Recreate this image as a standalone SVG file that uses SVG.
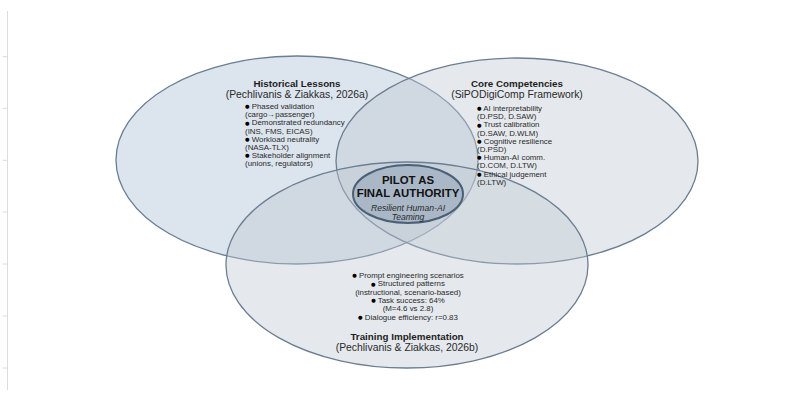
<svg xmlns="http://www.w3.org/2000/svg" width="797" height="393" viewBox="0 0 797 393">
  <style>
    .set { stroke: #6c7e92; stroke-width: 1.3; fill-opacity: 0.4; }
    .title { font-family: "Liberation Sans", Arial, sans-serif; font-size: 9.8px; font-weight: bold; fill: #1e1e1e; text-anchor: middle; }
    .sub { font-family: "Liberation Sans", Arial, sans-serif; font-size: 10.4px; fill: #2a2a2a; text-anchor: middle; }
    .item { font-family: "Liberation Sans", Arial, sans-serif; font-size: 7.9px; fill: #2a2a2a; }
    .dot { font-family: "DejaVu Sans", sans-serif; font-size: 5.2px; fill: #000; }
    .mid { text-anchor: middle; }
    .core { font-family: "Liberation Sans", Arial, sans-serif; font-size: 11.4px; font-weight: bold; fill: #111; text-anchor: middle; }
    .tag { font-family: "Liberation Sans", Arial, sans-serif; font-size: 8.6px; font-style: italic; fill: #2a2a2a; text-anchor: middle; }
    .axis { stroke: #dcdcdc; stroke-width: 1; fill: none; }
  </style>

  <rect width="797" height="393" fill="#ffffff"/>

  <!-- faint vertical axis with ticks on the left margin -->
  <g id="axis" class="axis">
    <line x1="7.5" y1="11" x2="7.5" y2="390"/>
    <path d="M2.5 56.7H7M2.5 108.3H7M2.5 160.3H7M2.5 212H7M2.5 264H7M2.5 316H7M2.5 368H7"/>
  </g>

  <!-- Historical Lessons set -->
  <g id="historical-lessons">
    <ellipse class="set" cx="297" cy="160" rx="181" ry="104" fill="#a7bcd3"/>
  </g>

  <!-- Core Competencies set -->
  <g id="core-competencies">
    <ellipse class="set" cx="517" cy="161" rx="181" ry="103" fill="#bec8d2"/>
  </g>

  <!-- Training Implementation set -->
  <g id="training-implementation">
    <ellipse class="set" cx="407" cy="265" rx="181" ry="103" fill="#bec8d2"/>
  </g>

  <!-- labels for the three sets -->
  <g id="historical-lessons-text">
    <text class="title" x="297" y="86.5">Historical Lessons</text>
    <text class="sub" x="297" y="98">(Pechlivanis &amp; Ziakkas, 2026a)</text>
    <g class="item">
      <text x="245" y="109"><tspan class="dot" dy="-0.8">●</tspan><tspan dy="0.8"> Phased validation</tspan></text>
      <text x="245" y="117.2">(cargo→passenger)</text>
      <text x="245" y="125.4"><tspan class="dot" dy="-0.8">●</tspan><tspan dy="0.8"> Demonstrated redundancy</tspan></text>
      <text x="245" y="133.6">(INS, FMS, EICAS)</text>
      <text x="245" y="141.8"><tspan class="dot" dy="-0.8">●</tspan><tspan dy="0.8"> Workload neutrality</tspan></text>
      <text x="245" y="150">(NASA-TLX)</text>
      <text x="245" y="158.2"><tspan class="dot" dy="-0.8">●</tspan><tspan dy="0.8"> Stakeholder alignment</tspan></text>
      <text x="245" y="166.4">(unions, regulators)</text>
    </g>
  </g>

  <g id="core-competencies-text">
    <text class="title" x="517" y="86.5">Core Competencies</text>
    <text class="sub" x="517" y="98">(SiPODigiComp Framework)</text>
    <g class="item">
      <text x="477" y="111"><tspan class="dot" dy="-0.8">●</tspan><tspan dy="0.8"> AI interpretability</tspan></text>
      <text x="477" y="119.2">(D.PSD, D.SAW)</text>
      <text x="477" y="127.4"><tspan class="dot" dy="-0.8">●</tspan><tspan dy="0.8"> Trust calibration</tspan></text>
      <text x="477" y="135.6">(D.SAW, D.WLM)</text>
      <text x="477" y="143.8"><tspan class="dot" dy="-0.8">●</tspan><tspan dy="0.8"> Cognitive resilience</tspan></text>
      <text x="477" y="152">(D.PSD)</text>
      <text x="477" y="160.2"><tspan class="dot" dy="-0.8">●</tspan><tspan dy="0.8"> Human-AI comm.</tspan></text>
      <text x="477" y="168.4">(D.COM, D.LTW)</text>
      <text x="477" y="176.6"><tspan class="dot" dy="-0.8">●</tspan><tspan dy="0.8"> Ethical judgement</tspan></text>
      <text x="477" y="184.8">(D.LTW)</text>
    </g>
  </g>

  <g id="training-implementation-text">
    <g class="item">
      <text class="mid" x="408" y="278"><tspan class="dot" dy="-0.8">●</tspan><tspan dy="0.8"> Prompt engineering scenarios</tspan></text>
      <text class="mid" x="408" y="286.3"><tspan class="dot" dy="-0.8">●</tspan><tspan dy="0.8"> Structured patterns</tspan></text>
      <text class="mid" x="408" y="294.6">(instructional, scenario-based)</text>
      <text class="mid" x="408" y="302.9"><tspan class="dot" dy="-0.8">●</tspan><tspan dy="0.8"> Task success: 64%</tspan></text>
      <text class="mid" x="408" y="311.2">(M=4.6 vs 2.8)</text>
      <text class="mid" x="408" y="319.5"><tspan class="dot" dy="-0.8">●</tspan><tspan dy="0.8"> Dialogue efficiency: r=0.83</tspan></text>
    </g>
    <text class="title" x="407" y="339.5">Training Implementation</text>
    <text class="sub" x="407" y="351">(Pechlivanis &amp; Ziakkas, 2026b)</text>
  </g>

  <!-- central intersection -->
  <g id="pilot-final-authority">
    <ellipse cx="408" cy="194" rx="55" ry="29" fill="#a9b7c6" stroke="#4b6077" stroke-width="2"/>
    <text class="core" x="408" y="184">PILOT AS</text>
    <text class="core" x="408" y="196.5">FINAL AUTHORITY</text>
    <text class="tag" x="408" y="210.5">Resilient Human-AI</text>
    <text class="tag" x="408" y="220">Teaming</text>
  </g>
</svg>
